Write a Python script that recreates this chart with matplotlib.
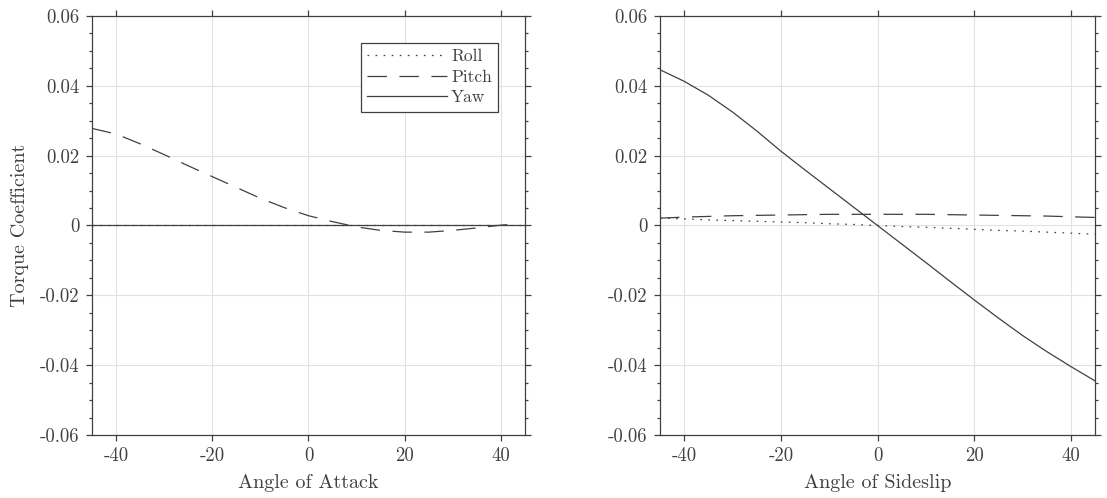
import matplotlib
matplotlib.use('Agg')
import matplotlib.pyplot as plt

# Datos
alpha = [-45, -40, -35, -30, -25, -20, -15, -10, -5, 0, 5, 10, 15, 20, 25, 30, 35, 40, 45]
roll_alpha = [0.0] * len(alpha)
yaw_alpha = [0.0] * len(alpha)
alpha_pitch = [-45, -40, -35, -30, -25, -20, -15, -10, -5, 0, 5, 10, 15, 20, 25, 30, 35, 40, 42]
pitch_alpha = [0.0278, 0.0262, 0.0234, 0.0203, 0.0171, 0.0140, 0.0109, 0.0078, 0.0051, 0.0028,
               0.0011, -0.0004, -0.0014, -0.0019, -0.0019, -0.0014, -0.0007, 0.0001, 0.0003]

beta = [-45, -40, -35, -30, -25, -20, -15, -10, -5, 0, 5, 10, 15, 20, 25, 30, 35, 40, 45]
roll_beta = [0.0021, 0.0019, 0.0016, 0.0014, 0.0012, 0.0010, 0.0008, 0.0005, 0.0003, 0.0,
             -0.0003, -0.0005, -0.0008, -0.0011, -0.0014, -0.0016, -0.0019, -0.0022, -0.0025]
pitch_beta = [0.0021, 0.0024, 0.0026, 0.0028, 0.0029, 0.0030, 0.0031, 0.0032, 0.0032, 0.0032,
              0.0032, 0.0032, 0.0031, 0.0030, 0.0029, 0.0028, 0.0027, 0.0025, 0.0023]
yaw_beta = [0.0446, 0.0413, 0.0373, 0.0325, 0.0271, 0.0213, 0.0159, 0.0106, 0.0053, 0.0,
            -0.0053, -0.0106, -0.0160, -0.0213, -0.0265, -0.0315, -0.0361, -0.0404, -0.0445]

xticks = [-40, -20, 0, 20, 40]
xticklabels = ['-40', '-20', '0', '20', '40']
yticks = [-0.06, -0.04, -0.02, 0, 0.02, 0.04, 0.06]
yticklabels = ['-0.06', '-0.04', '-0.02', '0', '0.02', '0.04', '0.06']

gris = '#404040'
plt.rcParams['font.family'] = ['cmr10', 'DejaVu Serif']
plt.rcParams['mathtext.fontset'] = 'cm'
plt.rcParams['lines.scale_dashes'] = False
plt.rcParams['text.color'] = gris
plt.rcParams['axes.labelcolor'] = gris

fig = plt.figure(figsize=(11.07, 4.98), dpi=100)
ax1 = fig.add_axes([0.0831, 0.1265, 0.3911, 0.8414])
ax2 = fig.add_axes([0.5962, 0.1265, 0.3930, 0.8414])

punteado = (0, (1.2, 4.6))
rayado = (0, (14, 9))

ax1.plot(alpha, roll_alpha, color=gris, lw=0.9, linestyle=punteado, label='Roll')
ax1.plot(alpha_pitch, pitch_alpha, color=gris, lw=0.9, linestyle=rayado, label='Pitch')
ax1.plot(alpha, yaw_alpha, color=gris, lw=0.9, linestyle='-', label='Yaw')

ax2.plot(beta, roll_beta, color=gris, lw=0.9, linestyle=punteado)
ax2.plot(beta, pitch_beta, color=gris, lw=0.9, linestyle=rayado)
ax2.plot(beta, yaw_beta, color=gris, lw=0.9, linestyle='-')

for ax, etiqueta in [(ax1, 'Angle of Attack'), (ax2, 'Angle of Sideslip')]:
    ax.set_xlim(-45, 45)
    ax.set_ylim(-0.06, 0.06)
    ax.set_xticks(xticks)
    ax.set_xticklabels(xticklabels)
    ax.set_yticks(yticks)
    ax.set_yticklabels(yticklabels)
    ax.set_yticks([y / 1000 for y in range(-60, 61, 5)], minor=True)
    ax.grid(True, color='#e2e2e2', lw=0.8)
    ax.set_axisbelow(True)
    ax.tick_params(which='both', direction='out', top=True, right=True,
                   color=gris, labelcolor=gris, labelsize=13.5, width=0.9)
    ax.tick_params(which='major', length=4, pad=5)
    ax.tick_params(which='minor', length=2.5)
    for s in ax.spines.values():
        s.set_color(gris)
        s.set_linewidth(0.9)
    ax.set_xlabel(etiqueta, fontsize=14.5, labelpad=6)

ax1.set_ylabel('Torque Coefficient', fontsize=14.5, labelpad=8)

leg = ax1.legend(loc='upper right', bbox_to_anchor=(0.9376, 0.9356), fontsize=12.5,
                 fancybox=False, framealpha=1, edgecolor=gris, handlelength=4.6,
                 borderaxespad=0, handletextpad=0.25, labelspacing=0.3,
                 borderpad=0.35)
leg.get_frame().set_linewidth(0.9)

fig.savefig('out.png', dpi=100)
